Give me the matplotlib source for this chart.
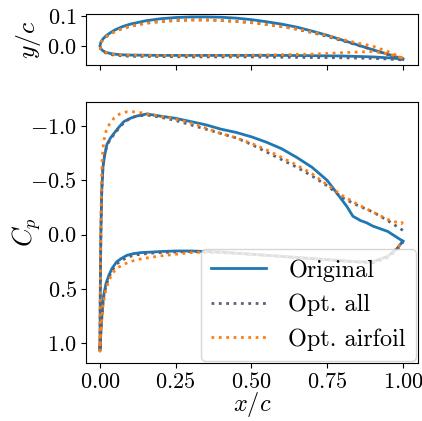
import matplotlib
matplotlib.use("Agg")
import matplotlib.pyplot as plt
import numpy as np

plt.rcParams['font.family'] = 'serif'
plt.rcParams['font.serif'] = ['cmr10', 'DejaVu Serif']
plt.rcParams['mathtext.fontset'] = 'cm'
plt.rcParams['axes.formatter.use_mathtext'] = True

# ---------------- airfoil geometry ----------------
orig_up_x = [0, 0.003, 0.01, 0.02, 0.035, 0.05, 0.075, 0.1, 0.15, 0.2, 0.25, 0.3, 0.35, 0.4, 0.45, 0.5, 0.55, 0.6, 0.65, 0.7, 0.75, 0.8, 0.85, 0.9, 0.95, 1.0]
orig_up_y = [0, 0.013, 0.024, 0.034, 0.045, 0.054, 0.065, 0.073, 0.084, 0.091, 0.095, 0.097, 0.097, 0.096, 0.093, 0.088, 0.081, 0.073, 0.063, 0.050, 0.036, 0.020, 0.004, -0.012, -0.027, -0.043]
orig_lo_x = [0, 0.003, 0.01, 0.02, 0.04, 0.07, 0.1, 0.2, 0.3, 0.4, 0.5, 0.6, 0.7, 0.8, 0.9, 0.95, 1.0]
orig_lo_y = [0, -0.009, -0.016, -0.021, -0.026, -0.029, -0.030, -0.031, -0.031, -0.031, -0.031, -0.031, -0.032, -0.033, -0.036, -0.039, -0.043]

all_up_x = orig_up_x
all_up_y = [0, 0.012, 0.022, 0.031, 0.041, 0.049, 0.059, 0.066, 0.076, 0.082, 0.085, 0.087, 0.087, 0.085, 0.082, 0.078, 0.072, 0.065, 0.056, 0.045, 0.032, 0.018, 0.003, -0.012, -0.028, -0.045]
all_lo_x = orig_lo_x
all_lo_y = [0, -0.010, -0.018, -0.023, -0.029, -0.032, -0.034, -0.035, -0.036, -0.036, -0.036, -0.037, -0.038, -0.039, -0.041, -0.043, -0.046]

foil_up_x = orig_up_x
foil_up_y = [0, 0.012, 0.022, 0.031, 0.041, 0.049, 0.059, 0.066, 0.076, 0.082, 0.085, 0.087, 0.087, 0.085, 0.082, 0.078, 0.072, 0.065, 0.057, 0.047, 0.035, 0.022, 0.010, 0.000, -0.018, -0.040]
foil_lo_x = orig_lo_x
foil_lo_y = [0, -0.009, -0.016, -0.021, -0.026, -0.029, -0.030, -0.031, -0.031, -0.031, -0.030, -0.029, -0.027, -0.022, -0.018, -0.025, -0.040]

# ---------------- pressure coefficient ----------------
cp_orig_up_x = [0.0, 0.001, 0.003, 0.006, 0.01, 0.015, 0.023, 0.035, 0.046, 0.06, 0.079, 0.1, 0.12, 0.155, 0.2, 0.25, 0.3, 0.35, 0.4, 0.45, 0.5, 0.55, 0.6, 0.65, 0.7, 0.75, 0.78, 0.815, 0.835, 0.86, 0.88, 0.9, 0.95, 1.0]
cp_orig_up = [1.07, 0.6, 0.0, -0.4, -0.62, -0.72, -0.83, -0.89, -0.93, -0.98, -1.04, -1.07, -1.09, -1.11, -1.09, -1.07, -1.04, -1.01, -0.97, -0.94, -0.9, -0.85, -0.79, -0.71, -0.62, -0.5, -0.39, -0.26, -0.17, -0.13, -0.11, -0.08, -0.03, 0.06]
cp_orig_lo_x = [0.0, 0.002, 0.005, 0.01, 0.013, 0.02, 0.03, 0.04, 0.055, 0.07, 0.089, 0.11, 0.135, 0.17, 0.2, 0.25, 0.3, 0.35, 0.4, 0.5, 0.6, 0.7, 0.8, 0.85, 0.9, 0.95, 0.98, 1.0]
cp_orig_lo = [1.07, 0.95, 0.8, 0.62, 0.55, 0.45, 0.37, 0.31, 0.25, 0.22, 0.19, 0.175, 0.165, 0.16, 0.155, 0.15, 0.15, 0.155, 0.16, 0.18, 0.2, 0.22, 0.24, 0.25, 0.25, 0.2, 0.13, 0.06]

cp_all_up_x = [0.0, 0.001, 0.003, 0.006, 0.01, 0.015, 0.023, 0.035, 0.046, 0.06, 0.079, 0.1, 0.12, 0.155, 0.2, 0.25, 0.3, 0.35, 0.4, 0.45, 0.5, 0.55, 0.6, 0.65, 0.7, 0.75, 0.8, 0.85, 0.9, 0.95, 1.0]
cp_all_up = [1.07, 0.6, 0.0, -0.42, -0.63, -0.73, -0.82, -0.88, -0.92, -0.97, -1.03, -1.07, -1.09, -1.1, -1.08, -1.05, -1.01, -0.97, -0.93, -0.89, -0.83, -0.76, -0.69, -0.62, -0.54, -0.45, -0.34, -0.27, -0.21, -0.13, -0.04]
cp_all_lo_x = cp_orig_lo_x
cp_all_lo = [1.07, 0.95, 0.8, 0.63, 0.56, 0.47, 0.39, 0.33, 0.27, 0.24, 0.21, 0.19, 0.18, 0.17, 0.165, 0.16, 0.155, 0.16, 0.165, 0.18, 0.2, 0.22, 0.24, 0.25, 0.26, 0.21, 0.14, 0.07]

cp_foil_up_x = [0.0, 0.001, 0.003, 0.005, 0.007, 0.012, 0.02, 0.03, 0.046, 0.065, 0.089, 0.11, 0.14, 0.18, 0.22, 0.27, 0.32, 0.4, 0.45, 0.5, 0.55, 0.6, 0.65, 0.7, 0.75, 0.8, 0.85, 0.9, 0.95, 0.995, 1.0]
cp_foil_up = [1.07, 0.5, -0.1, -0.45, -0.67, -0.85, -0.95, -1.01, -1.07, -1.11, -1.13, -1.13, -1.12, -1.1, -1.08, -1.05, -1.01, -0.93, -0.89, -0.84, -0.78, -0.71, -0.64, -0.56, -0.46, -0.36, -0.28, -0.21, -0.14, -0.10, -0.12]
cp_foil_lo_x = [0.0, 0.002, 0.005, 0.01, 0.02, 0.03, 0.04, 0.055, 0.08, 0.11, 0.14, 0.165, 0.2, 0.25, 0.3, 0.35, 0.4, 0.5, 0.6, 0.7, 0.8, 0.85, 0.9, 0.95, 0.98, 1.0]
cp_foil_lo = [1.07, 0.95, 0.82, 0.65, 0.5, 0.42, 0.36, 0.31, 0.27, 0.24, 0.22, 0.21, 0.195, 0.18, 0.165, 0.16, 0.165, 0.18, 0.2, 0.22, 0.24, 0.25, 0.25, 0.2, 0.13, 0.06]

labels = ['Original', 'Opt. all', 'Opt. airfoil']
c_orig = '#1f77b4'
c_all = '#5a6178'
c_foil = '#ff7f0e'

def loop(ux, uy, lx, ly):
    x = list(reversed(ux)) + list(lx)
    y = list(reversed(uy)) + list(ly)
    return x, y

fig = plt.figure(figsize=(4.22, 4.21), dpi=100)
ax1 = fig.add_axes([0.2038, 0.8456, 0.7867, 0.1211])
ax2 = fig.add_axes([0.2038, 0.1378, 0.7867, 0.6199])

styles = [
    (c_orig, '-', 2.0),
    (c_all, ':', 2.0),
    (c_foil, ':', 2.0),
]

geoms = [
    (orig_up_x, orig_up_y, orig_lo_x, orig_lo_y),
    (all_up_x, all_up_y, all_lo_x, all_lo_y),
    (foil_up_x, foil_up_y, foil_lo_x, foil_lo_y),
]
cps = [
    (cp_orig_up_x, cp_orig_up, cp_orig_lo_x, cp_orig_lo),
    (cp_all_up_x, cp_all_up, cp_all_lo_x, cp_all_lo),
    (cp_foil_up_x, cp_foil_up, cp_foil_lo_x, cp_foil_lo),
]

for (c, ls, lw), g, cp, lab in zip(styles, geoms, cps, labels):
    x, y = loop(*g)
    ax1.plot(x, y, color=c, ls=ls, lw=lw)
    x, y = loop(*cp)
    ax2.plot(x, y, color=c, ls=ls, lw=lw, label=lab)

xt = [0.0, 0.25, 0.5, 0.75, 1.0]
for ax in (ax1, ax2):
    ax.set_xlim(-0.046, 1.05)
    ax.set_xticks(xt)
    ax.tick_params(labelsize=16, pad=3)

ax1.set_ylim(-0.063, 0.1067)
ax1.set_yticks([0.0, 0.1])
ax1.set_yticklabels([r'$0.0$', r'$0.1$'])
ax1.set_xticklabels([])
ax1.set_ylabel(r'$y/c$', fontsize=18.5)
ax1.yaxis.set_label_coords(-0.13, 0.5)

ax2.set_ylim(1.18, -1.22)
ax2.set_yticks([-1.0, -0.5, 0.0, 0.5, 1.0])
ax2.set_yticklabels([r'$-1.0$', r'$-0.5$', r'$0.0$', r'$0.5$', r'$1.0$'])
ax2.set_xticklabels([r'$0.00$', r'$0.25$', r'$0.50$', r'$0.75$', r'$1.00$'])
ax2.set_xlabel(r'$x/c$', fontsize=17.5)
ax2.xaxis.set_label_coords(0.5, -0.105)
ax2.set_ylabel(r'$C_p$', fontsize=19)
ax2.yaxis.set_label_coords(-0.13, 0.5)

leg = ax2.legend(loc='lower right', fontsize=17.5, borderaxespad=0.1,
                 handlelength=2.3, handletextpad=0.9, labelspacing=0.5,
                 framealpha=0.8)

fig.savefig('out.png', dpi=100)
